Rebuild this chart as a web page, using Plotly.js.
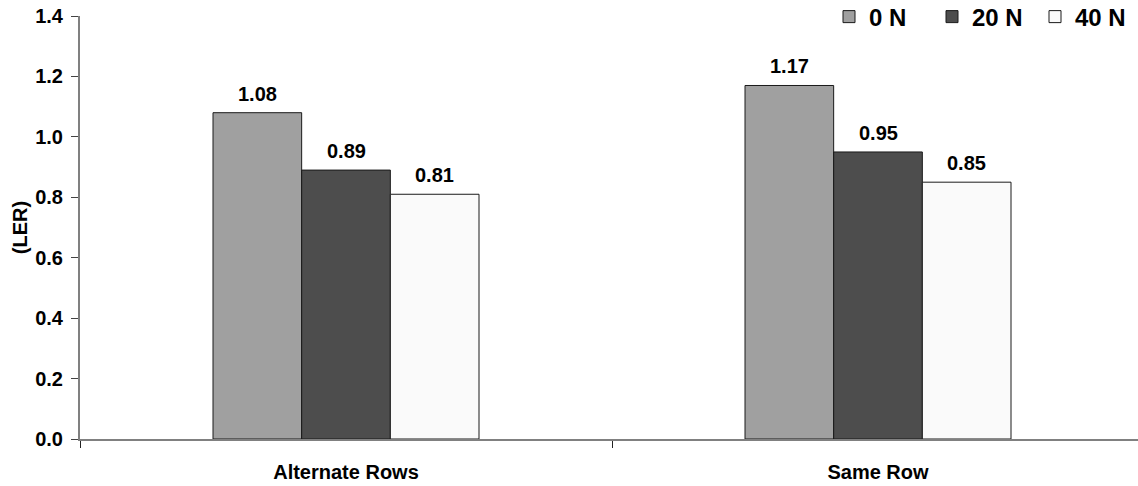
<!DOCTYPE html>
<html>
<head>
<meta charset="utf-8">
<script src="https://cdn.plot.ly/plotly-3.0.1.min.js"></script>
<style>
  html, body { margin: 0; padding: 0; background: #fff; }
  #chart { width: 1138px; height: 486px; }
</style>
</head>
<body>
<div id="chart"></div>
<script>
// Land equivalent ratio by planting pattern and nitrogen rate
const categories = ["Alternate Rows", "Same Row"];
const seriesNames = ["0 N", "20 N", "40 N"];
const values0N = [1.08, 1.17];
const values20N = [0.89, 0.95];
const values40N = [0.81, 0.85];
const yTicks = [0, 0.2, 0.4, 0.6, 0.8, 1.0, 1.2, 1.4];

const seriesValues = [values0N, values20N, values40N];
const fills = ["#a0a0a0", "#4d4d4d", "#fafafa"];
const FONT = "Liberation Sans, Arial, sans-serif";
const bargap = 0.5;

const traces = seriesValues.map((vals, i) => ({
  type: "bar",
  name: seriesNames[i],
  x: categories,
  y: vals,
  marker: { color: fills[i], line: { color: "#1a1a1a", width: 1 } },
  hoverinfo: "x+y+name"
}));

// value labels above each bar, offset to the bar's slot within its group
const annotations = [];
const slot = (1 - bargap) / seriesValues.length;
seriesValues.forEach((vals, i) => {
  vals.forEach((v, c) => {
    annotations.push({
      x: c + (i - (seriesValues.length - 1) / 2) * slot,
      y: v,
      xref: "x", yref: "y",
      text: v.toFixed(2),
      showarrow: false,
      yanchor: "bottom",
      yshift: 6,
      font: { family: FONT, size: 20, color: "#000", weight: "bold" }
    });
  });
});

const layout = {
  width: 1138,
  height: 486,
  margin: { l: 80, r: 0, t: 16, b: 47, pad: 0, autoexpand: false },
  paper_bgcolor: "#fff",
  plot_bgcolor: "#fff",
  barmode: "group",
  bargap: bargap,
  bargroupgap: 0,
  font: { family: FONT, color: "#000" },
  xaxis: {
    type: "category",
    range: [-0.5, 1.4887],
    showline: true,
    linecolor: "#808080",
    linewidth: 2,
    ticks: "outside",
    tickson: "boundaries",
    ticklen: 7,
    tickcolor: "#222",
    tickwidth: 1,
    ticklabelstandoff: 14,
    showgrid: false,
    zeroline: false,
    tickfont: { family: FONT, size: 20, color: "#000", weight: "bold" }
  },
  yaxis: {
    range: [0, 1.4],
    tickvals: yTicks,
    ticktext: yTicks.map(v => v.toFixed(1)),
    showline: true,
    linecolor: "#808080",
    linewidth: 2,
    ticks: "outside",
    ticklen: 7,
    tickcolor: "#444",
    tickwidth: 1,
    ticklabelstandoff: 4,
    showgrid: false,
    zeroline: false,
    tickfont: { family: FONT, size: 20, color: "#000", weight: "bold" },
    title: {
      text: "(LER)",
      standoff: 2,
      font: { family: FONT, size: 20, color: "#000", weight: "bold" }
    }
  },
  legend: {
    orientation: "h",
    xref: "container",
    yref: "container",
    x: 1,
    xanchor: "right",
    y: 0.965,
    yanchor: "middle",
    bgcolor: "rgba(0,0,0,0)",
    font: { family: FONT, size: 24, color: "#000", weight: "bold" },
    itemwidth: 30,
    entrywidth: 58,
    entrywidthmode: "pixels",
    traceorder: "normal"
  },
  annotations: annotations,
  showlegend: true
};

Plotly.newPlot("chart", traces, layout, { displayModeBar: false, staticPlot: false });
</script>
</body>
</html>
